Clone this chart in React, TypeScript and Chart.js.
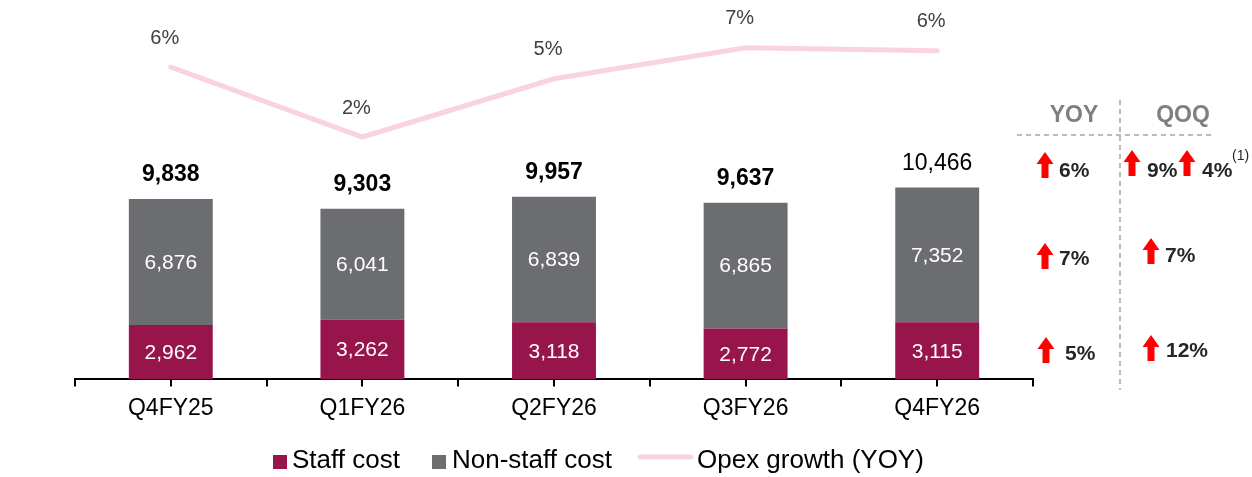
import React, { useEffect, useRef } from "react";
import { Chart, registerables } from "chart.js";

Chart.register(...registerables);

const categories = ["Q4FY25", "Q1FY26", "Q2FY26", "Q3FY26", "Q4FY26"];
const staffCost = [2962, 3262, 3118, 2772, 3115];
const nonStaffCost = [6876, 6041, 6839, 6865, 7352];
const totalOpex = [9838, 9303, 9957, 9637, 10466];
const opexGrowthYoy = [5.6, 2.0, 5.0, 6.6, 6.45];

const legendLabels = ["Staff cost", "Non-staff cost", "Opex growth (YOY)"];
const panelHeaders = ["YOY", "QOQ"];
const yoyGrowth = [6, 7, 5];
const qoqGrowth = [9, 7, 12];
const qoqAdjustedTotal = 4;
const footnoteMark = "(1)";

const FONT = '"Liberation Sans", Arial, sans-serif';
const MAROON = "#98154b";
const GRAY = "#6c6d70";
const PINK = "#f9d3e3";

const fmt = (v: number) => v.toLocaleString("en-US");

function drawArrow(ctx: CanvasRenderingContext2D, cx: number, top: number) {
  ctx.save();
  ctx.fillStyle = "#ff0000";
  ctx.beginPath();
  ctx.moveTo(cx, top);
  ctx.lineTo(cx + 8.5, top + 12);
  ctx.lineTo(cx + 3.5, top + 12);
  ctx.lineTo(cx + 3.5, top + 26);
  ctx.lineTo(cx - 3.5, top + 26);
  ctx.lineTo(cx - 3.5, top + 12);
  ctx.lineTo(cx - 8.5, top + 12);
  ctx.closePath();
  ctx.fill();
  ctx.restore();
}

const labelsPlugin = {
  id: "customLabels",
  afterDatasetsDraw(chart: any) {
    const ctx: CanvasRenderingContext2D = chart.ctx;
    const staffMeta = chart.getDatasetMeta(0);
    const nonMeta = chart.getDatasetMeta(1);
    const lineMeta = chart.getDatasetMeta(2);
    ctx.save();
    ctx.textAlign = "center";
    ctx.textBaseline = "middle";
    // inner values
    ctx.fillStyle = "#ffffff";
    ctx.font = `21px ${FONT}`;
    staffMeta.data.forEach((el: any, i: number) => {
      ctx.fillText(fmt(staffCost[i]), el.x, (el.y + el.base) / 2 + 1);
    });
    nonMeta.data.forEach((el: any, i: number) => {
      ctx.fillText(fmt(nonStaffCost[i]), el.x, (el.y + el.base) / 2 + 1);
    });
    // totals
    ctx.fillStyle = "#000000";
    nonMeta.data.forEach((el: any, i: number) => {
      const last = i === categories.length - 1;
      ctx.font = `${last ? "normal" : "bold"} 23px ${FONT}`;
      ctx.fillText(fmt(totalOpex[i]), el.x, el.y - 24);
    });
    // line labels
    ctx.fillStyle = "#404040";
    ctx.font = `20px ${FONT}`;
    lineMeta.data.forEach((el: any, i: number) => {
      ctx.fillText(`${Math.round(opexGrowthYoy[i])}%`, el.x - 6, el.y - 29);
    });
    // center tick marks
    const xs = chart.scales.x;
    const bottom = chart.chartArea.bottom;
    ctx.strokeStyle = "#000";
    ctx.lineWidth = 2;
    categories.forEach((_, i) => {
      const x = Math.round(xs.getPixelForValue(i));
      ctx.beginPath();
      ctx.moveTo(x, bottom);
      ctx.lineTo(x, bottom + 7);
      ctx.stroke();
    });
    ctx.restore();
  },
  afterDraw(chart: any) {
    const ctx: CanvasRenderingContext2D = chart.ctx;
    ctx.save();
    // legend
    ctx.textBaseline = "middle";
    ctx.textAlign = "left";
    ctx.font = `26px ${FONT}`;
    ctx.fillStyle = MAROON;
    ctx.fillRect(273, 455, 14, 14);
    ctx.fillStyle = "#000";
    ctx.fillText(legendLabels[0], 292, 461);
    ctx.fillStyle = GRAY;
    ctx.fillRect(432, 455, 14, 14);
    ctx.fillStyle = "#000";
    ctx.fillText(legendLabels[1], 452, 461);
    ctx.strokeStyle = PINK;
    ctx.lineWidth = 5;
    ctx.lineCap = "round";
    ctx.beginPath();
    ctx.moveTo(640, 457);
    ctx.lineTo(691, 457);
    ctx.stroke();
    ctx.fillStyle = "#000";
    ctx.fillText(legendLabels[2], 697, 461);

    // right panel
    ctx.strokeStyle = "#a6a6a6";
    ctx.lineWidth = 1.5;
    ctx.lineCap = "butt";
    ctx.setLineDash([5, 4]);
    ctx.beginPath();
    ctx.moveTo(1017, 135);
    ctx.lineTo(1215, 135);
    ctx.stroke();
    ctx.beginPath();
    ctx.moveTo(1120, 100);
    ctx.lineTo(1120, 390);
    ctx.stroke();
    ctx.setLineDash([]);

    ctx.textAlign = "center";
    ctx.fillStyle = "#7f7f7f";
    ctx.font = `bold 23px ${FONT}`;
    ctx.fillText(panelHeaders[0], 1074, 116);
    ctx.fillText(panelHeaders[1], 1183, 116);

    ctx.textAlign = "left";
    ctx.fillStyle = "#262626";
    ctx.font = `bold 21px ${FONT}`;
    // row 1 (total)
    drawArrow(ctx, 1045, 152);
    ctx.fillText(`${yoyGrowth[0]}%`, 1059, 171);
    drawArrow(ctx, 1132, 150);
    ctx.fillText(`${qoqGrowth[0]}%`, 1147, 171);
    drawArrow(ctx, 1187, 150);
    ctx.fillText(`${qoqAdjustedTotal}%`, 1202, 171);
    ctx.font = `14px ${FONT}`;
    ctx.fillText(footnoteMark, 1232, 156);
    ctx.font = `bold 21px ${FONT}`;
    // row 2 (non-staff)
    drawArrow(ctx, 1045, 243);
    ctx.fillText(`${yoyGrowth[1]}%`, 1059, 259);
    drawArrow(ctx, 1151, 238);
    ctx.fillText(`${qoqGrowth[1]}%`, 1165, 256);
    // row 3 (staff)
    drawArrow(ctx, 1046, 337);
    ctx.fillText(`${yoyGrowth[2]}%`, 1065, 354);
    drawArrow(ctx, 1151, 335);
    ctx.fillText(`${qoqGrowth[2]}%`, 1166, 351);
    ctx.restore();
  },
};

export default function App() {
  const ref = useRef<HTMLCanvasElement>(null);
  useEffect(() => {
    document.body.style.margin = "0";
    const chart = new Chart(ref.current as HTMLCanvasElement, {
      type: "bar",
      data: {
        labels: categories,
        datasets: [
          {
            type: "bar",
            label: legendLabels[0],
            data: staffCost,
            backgroundColor: MAROON,
            borderWidth: 0,
            barPercentage: 0.438,
            categoryPercentage: 1,
            order: 1,
          },
          {
            type: "bar",
            label: legendLabels[1],
            data: nonStaffCost,
            backgroundColor: GRAY,
            borderWidth: 0,
            barPercentage: 0.438,
            categoryPercentage: 1,
            order: 1,
          },
          {
            type: "line",
            label: legendLabels[2],
            data: opexGrowthYoy,
            yAxisID: "y1",
            borderColor: PINK,
            borderWidth: 5,
            borderCapStyle: "round",
            pointRadius: 0,
            tension: 0,
            order: 0,
          } as any,
        ],
      },
      options: {
        responsive: false,
        animation: false,
        layout: { padding: { left: 75, right: 219, top: 9, bottom: 47 } },
        plugins: { legend: { display: false }, tooltip: { enabled: false } },
        scales: {
          x: {
            stacked: true,
            offset: true,
            grid: {
              offset: true,
              drawOnChartArea: false,
              drawTicks: true,
              tickLength: 7,
              color: "#000",
              lineWidth: 2,
            },
            border: { display: true, color: "#000", width: 2 },
            ticks: {
              color: "#000",
              font: { family: FONT, size: 23 },
              padding: 8,
              maxRotation: 0,
              autoSkip: false,
            },
          },
          y: { stacked: true, display: false, min: 0, max: 20200 },
          y1: { display: false, min: -10.5, max: 8.6 },
        },
      },
      plugins: [labelsPlugin],
    });
    return () => chart.destroy();
  }, []);
  return <canvas ref={ref} width={1252} height={477} />;
}
